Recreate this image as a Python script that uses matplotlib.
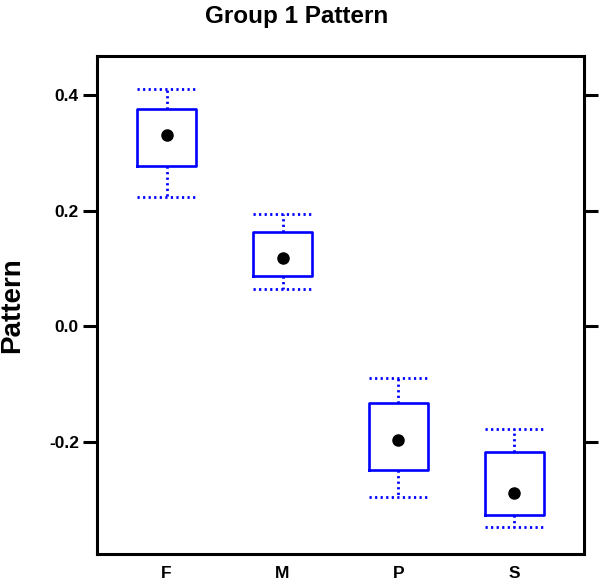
import matplotlib
matplotlib.use('Agg')
import matplotlib.pyplot as plt

# 数据
groups = ['F', 'M', 'P', 'S']
whis_hi = [0.411, 0.195, -0.090, -0.177]
box_hi = [0.377, 0.163, -0.132, -0.218]
median = [0.332, 0.118, -0.197, -0.288]
box_lo = [0.277, 0.087, -0.249, -0.326]
whis_lo = [0.224, 0.065, -0.295, -0.347]
yticks = [-0.2, 0.0, 0.2, 0.4]

plt.rcParams['font.family'] = ['Liberation Sans', 'DejaVu Sans']
plt.rcParams['font.weight'] = 'bold'

fig = plt.figure(figsize=(6.0, 5.81), dpi=100)
ax = fig.add_axes([0.1617, 0.0465, 0.8116, 0.8571])

pos = list(range(1, len(groups) + 1))
stats = []
for i, g in enumerate(groups):
    stats.append({'label': g, 'med': median[i], 'q1': box_lo[i], 'q3': box_hi[i],
                  'whislo': whis_lo[i], 'whishi': whis_hi[i], 'fliers': []})

blue = '#0000ff'
dot_ls = (0, (0.8, 1.2))
ax.bxp(stats, positions=pos, widths=0.51, capwidths=0.51, showfliers=False,
       boxprops=dict(color=blue, linewidth=1.9),
       whiskerprops=dict(color=blue, linewidth=2.0, linestyle=dot_ls),
       capprops=dict(color=blue, linewidth=2.0, linestyle=dot_ls),
       medianprops=dict(visible=False))
ax.plot(pos, median, 'o', color='black', markersize=8, zorder=5)

ax.set_xlim(0.4, 4.6)
ax.set_ylim(-0.394, 0.468)
ax.set_xticks(pos)
ax.set_xticklabels(groups)
ax.set_yticks(yticks)
ax.set_yticklabels(['-0.2', '0.0', '0.2', '0.4'])

for sp in ax.spines.values():
    sp.set_linewidth(2.2)
ax.tick_params(axis='x', length=0, pad=9, labelsize=12.5)
ax.tick_params(axis='y', direction='out', length=10, width=2.2, pad=3,
               labelsize=12.5, right=True)

# 标题按整幅图居中
fig.suptitle('Group 1 Pattern', x=0.494, y=0.971, fontsize=17.5, fontweight='bold',
             va='center')
ax.set_ylabel('Pattern', fontsize=20, fontweight='bold', labelpad=17)

fig.savefig('out.png', dpi=100)
